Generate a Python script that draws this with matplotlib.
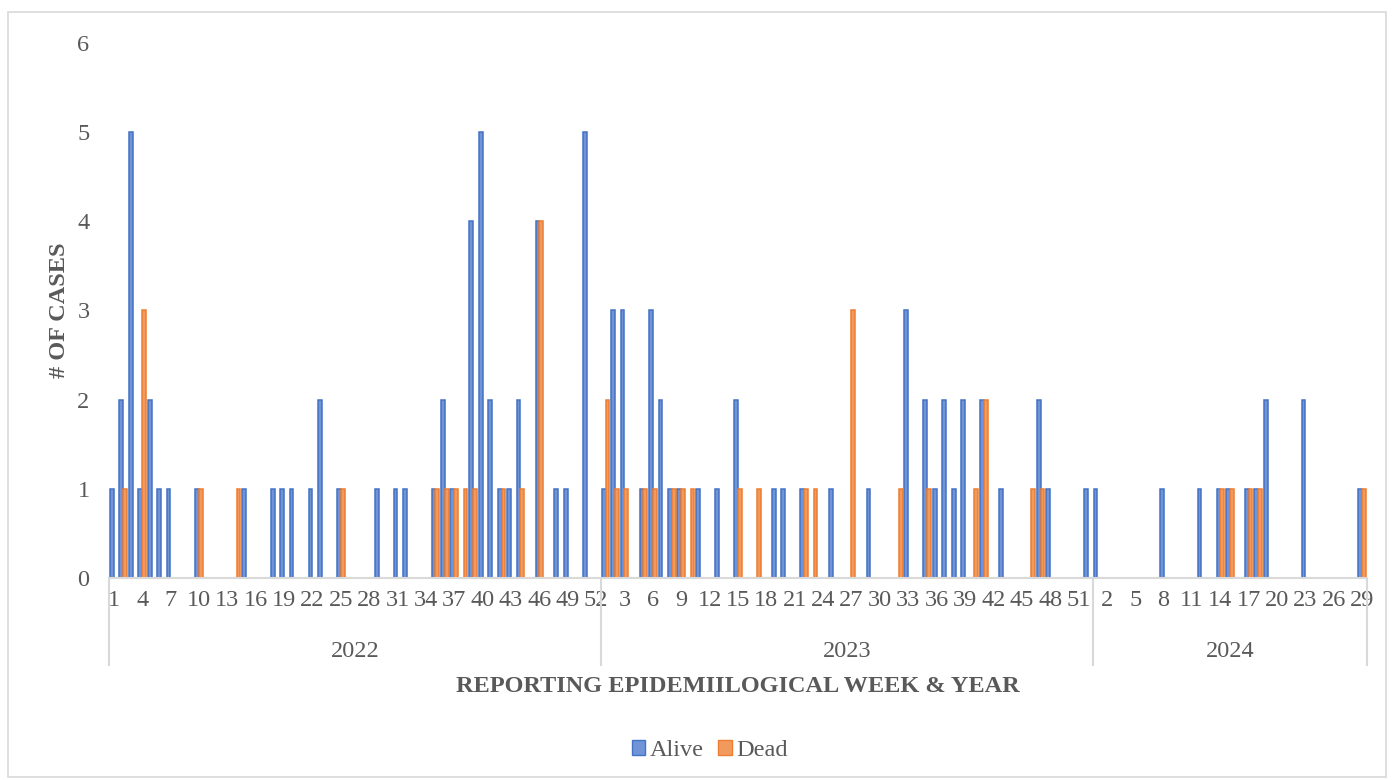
import matplotlib.pyplot as plt
from matplotlib.patches import Patch, Rectangle
import numpy as np

# --- data: cases per reporting epidemiological week ---
years = ['2022', '2023', '2024']

alive_2022 = [1, 2, 5, 1, 2, 1, 1, 0, 0, 1, 0, 0, 0, 0, 1, 0, 0, 1, 1, 1,
              0, 1, 2, 0, 1, 0, 0, 0, 1, 0, 1, 1, 0, 0, 1, 2, 1, 0, 4, 5,
              2, 1, 1, 2, 0, 4, 0, 1, 1, 0, 5, 0]
dead_2022 = [0, 1, 0, 3, 0, 0, 0, 0, 0, 1, 0, 0, 0, 1, 0, 0, 0, 0, 0, 0,
             0, 0, 0, 0, 1, 0, 0, 0, 0, 0, 0, 0, 0, 0, 1, 1, 1, 1, 1, 0,
             0, 1, 0, 1, 0, 4, 0, 0, 0, 0, 0, 0]

alive_2023 = [1, 3, 3, 0, 1, 3, 2, 1, 1, 0, 1, 0, 1, 0, 2, 0, 0, 0, 1, 1,
              0, 1, 0, 0, 1, 0, 0, 0, 1, 0, 0, 0, 3, 0, 2, 1, 2, 1, 2, 0,
              2, 0, 1, 0, 0, 0, 2, 1, 0, 0, 0, 1]
dead_2023 = [2, 1, 1, 0, 1, 1, 0, 1, 1, 1, 0, 0, 0, 0, 1, 0, 1, 0, 0, 0,
             0, 1, 1, 0, 0, 0, 3, 0, 0, 0, 0, 1, 0, 0, 1, 0, 0, 0, 0, 1,
             2, 0, 0, 0, 0, 1, 1, 0, 0, 0, 0, 0]

alive_2024 = [1, 0, 0, 0, 0, 0, 0, 1, 0, 0, 0, 1, 0, 1, 1, 0, 1, 1, 2, 0,
              0, 0, 2, 0, 0, 0, 0, 0, 1]
dead_2024 = [0, 0, 0, 0, 0, 0, 0, 0, 0, 0, 0, 0, 0, 1, 1, 0, 1, 1, 0, 0,
             0, 0, 0, 0, 0, 0, 0, 0, 1]

alive_by_year = [alive_2022, alive_2023, alive_2024]
dead_by_year = [dead_2022, dead_2023, dead_2024]

# flatten into one category axis
weeks, alive, dead, year_sizes = [], [], [], []
for a, d in zip(alive_by_year, dead_by_year):
    weeks += list(range(1, len(a) + 1))
    alive += a
    dead += d
    year_sizes.append(len(a))
x = np.arange(len(weeks))

# --- style ---
plt.rcParams['font.family'] = ['Liberation Serif', 'DejaVu Serif']
grey = '#595959'
line_grey = '#D9D9D9'
blue, blue_fill = '#4472C4', '#7094D6'
orange, orange_fill = '#ED7D31', '#F29A5E'

fig = plt.figure(figsize=(13.92, 7.8), dpi=100)
ax = fig.add_axes([0.0783, 0.259, 0.9037, 0.686])

w = 0.4
ax.bar(x - w / 2, alive, width=w, color=blue_fill, edgecolor=blue, linewidth=1.1)
ax.bar(x + w / 2, dead, width=w, color=orange_fill, edgecolor=orange, linewidth=1.1)

ax.set_xlim(-0.5, len(weeks) - 0.5)
ax.set_ylim(0, 6)
ax.set_yticks(range(0, 7))
ax.tick_params(axis='y', length=0, labelsize=17.5, labelcolor=grey, pad=14)

# week labels every third category
ax.set_xticks(x[::3])
ax.set_xticklabels([str(wk) for wk in weeks[::3]])
ax.tick_params(axis='x', length=0, labelsize=17.5, labelcolor=grey, pad=9)

for s in ['top', 'right', 'left']:
    ax.spines[s].set_visible(False)
ax.spines['bottom'].set_color(line_grey)
ax.spines['bottom'].set_linewidth(1.5)

# year level of the category axis
trans = ax.get_xaxis_transform()
start = -0.5
bounds = [start]
for n in year_sizes:
    bounds.append(bounds[-1] + n)
for b in bounds:
    ax.plot([b, b], [0, -0.163], transform=trans, color=line_grey,
            linewidth=1.5, clip_on=False)
for yr, b0, b1 in zip(years, bounds[:-1], bounds[1:]):
    ax.text((b0 + b1) / 2, -0.137, yr, transform=trans, ha='center',
            va='center', fontsize=17.5, color=grey)

ax.set_ylabel('# OF CASES', fontsize=17.5, fontweight='bold', color=grey,
              labelpad=5)
fig.text(0.53, 0.12, 'REPORTING EPIDEMIILOGICAL WEEK & YEAR', ha='center',
         va='center', fontsize=17.5, fontweight='bold', color=grey)

handles = [Patch(facecolor=blue_fill, edgecolor=blue, label='Alive'),
           Patch(facecolor=orange_fill, edgecolor=orange, label='Dead')]
fig.legend(handles=handles, loc='center', bbox_to_anchor=(0.51, 0.038),
           ncol=2, frameon=False, fontsize=17.5, labelcolor=grey,
           handlelength=0.55, handleheight=0.55, handletextpad=0.2,
           columnspacing=0.6)

# chart area border
fig.add_artist(Rectangle((0.006, 0.004), 0.99, 0.98, transform=fig.transFigure,
                         fill=False, edgecolor=line_grey, linewidth=1.2))

plt.savefig('out.png', dpi=100)
